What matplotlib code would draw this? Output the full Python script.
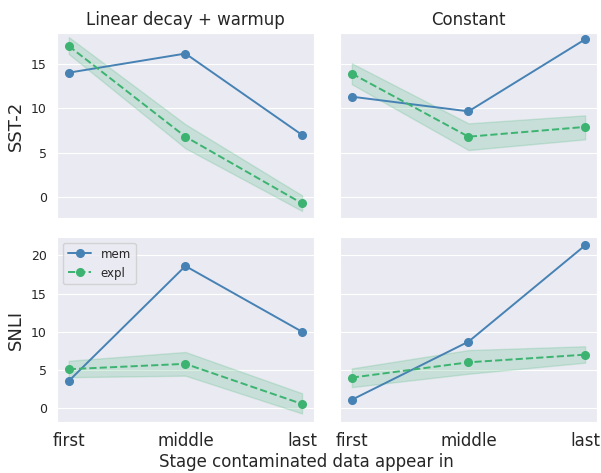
import numpy as np
import matplotlib
matplotlib.use('Agg')
import matplotlib.pyplot as plt
import seaborn as sns

STAGES = ['first', 'middle', 'last']
SCHEDULES = ['Linear decay + warmup', 'Constant']
DATASETS = ['SST-2', 'SNLI']

# mem / expl values per (dataset, schedule)
MEM_SST2_LINEAR = [14.0, 16.15, 7.0]
MEM_SST2_CONST = [11.3, 9.65, 17.75]
MEM_SNLI_LINEAR = [3.55, 18.6, 10.0]
MEM_SNLI_CONST = [1.1, 8.7, 21.3]

EXPL_SST2_LINEAR = [17.0, 6.8, -0.7]
EXPL_SST2_CONST = [13.9, 6.8, 7.9]
EXPL_SNLI_LINEAR = [5.1, 5.8, 0.55]
EXPL_SNLI_CONST = [4.0, 6.0, 7.0]

# band (lower, upper) for expl
EXPL_LO_SST2_LINEAR = [16.1, 5.5, -1.55]
EXPL_HI_SST2_LINEAR = [18.0, 8.2, 0.2]
EXPL_LO_SST2_CONST = [12.7, 5.3, 6.5]
EXPL_HI_SST2_CONST = [15.05, 8.3, 9.2]
EXPL_LO_SNLI_LINEAR = [4.05, 4.25, -0.7]
EXPL_HI_SNLI_LINEAR = [6.2, 7.35, 1.95]
EXPL_LO_SNLI_CONST = [2.75, 4.5, 5.95]
EXPL_HI_SNLI_CONST = [5.2, 7.6, 8.1]

MEM_COLOR = '#4682b4'
EXPL_COLOR = '#3cb371'

sns.set_style('darkgrid')
plt.rcParams['font.family'] = ['DejaVu Sans']

fig = plt.figure(figsize=(6.01, 4.73), dpi=100)
axes = [[None, None], [None, None]]
lefts = [0.095, 0.566]
width = 0.427
bottoms = [0.539, 0.108]
height = 0.391
for r in range(2):
    for c in range(2):
        share = axes[r][0] if c == 1 else None
        axes[r][c] = fig.add_axes([lefts[c], bottoms[r], width, height], sharey=share)

mem = [[MEM_SST2_LINEAR, MEM_SST2_CONST], [MEM_SNLI_LINEAR, MEM_SNLI_CONST]]
expl = [[EXPL_SST2_LINEAR, EXPL_SST2_CONST], [EXPL_SNLI_LINEAR, EXPL_SNLI_CONST]]
lo = [[EXPL_LO_SST2_LINEAR, EXPL_LO_SST2_CONST], [EXPL_LO_SNLI_LINEAR, EXPL_LO_SNLI_CONST]]
hi = [[EXPL_HI_SST2_LINEAR, EXPL_HI_SST2_CONST], [EXPL_HI_SNLI_LINEAR, EXPL_HI_SNLI_CONST]]

x = np.arange(len(STAGES))
for r in range(2):
    for c in range(2):
        ax = axes[r][c]
        ax.plot(x, mem[r][c], marker='o', markersize=5.5, linewidth=1.4,
                color=MEM_COLOR, label='mem')
        ax.plot(x, expl[r][c], marker='o', markersize=5.5, linewidth=1.4,
                linestyle='--', color=EXPL_COLOR, label='expl')
        ax.fill_between(x, lo[r][c], hi[r][c], color=EXPL_COLOR, alpha=0.2)
        ax.grid(axis='x', visible=False)
        ax.tick_params(axis='y', labelsize=9, pad=4)
        ax.set_xticks(x)
        if r == 1:
            ax.set_xticklabels(STAGES, fontsize=12)
        else:
            ax.set_xticklabels([])
        if c == 1:
            ax.tick_params(axis='y', labelleft=False)
        else:
            ax.set_ylabel(DATASETS[r], fontsize=13)
        if r == 0:
            ax.set_title(SCHEDULES[c], fontsize=12)

axes[0][0].set_ylim(-2.35, 18.45)
axes[0][0].set_yticks([0, 5, 10, 15])
axes[1][0].set_yticks([0, 5, 10, 15, 20])
axes[1][0].legend(loc='upper left', fontsize=8.5)

fig.text(0.51, 0.004, 'Stage contaminated data appear in', ha='center',
         va='bottom', fontsize=12)

plt.savefig('out.png', dpi=100)
